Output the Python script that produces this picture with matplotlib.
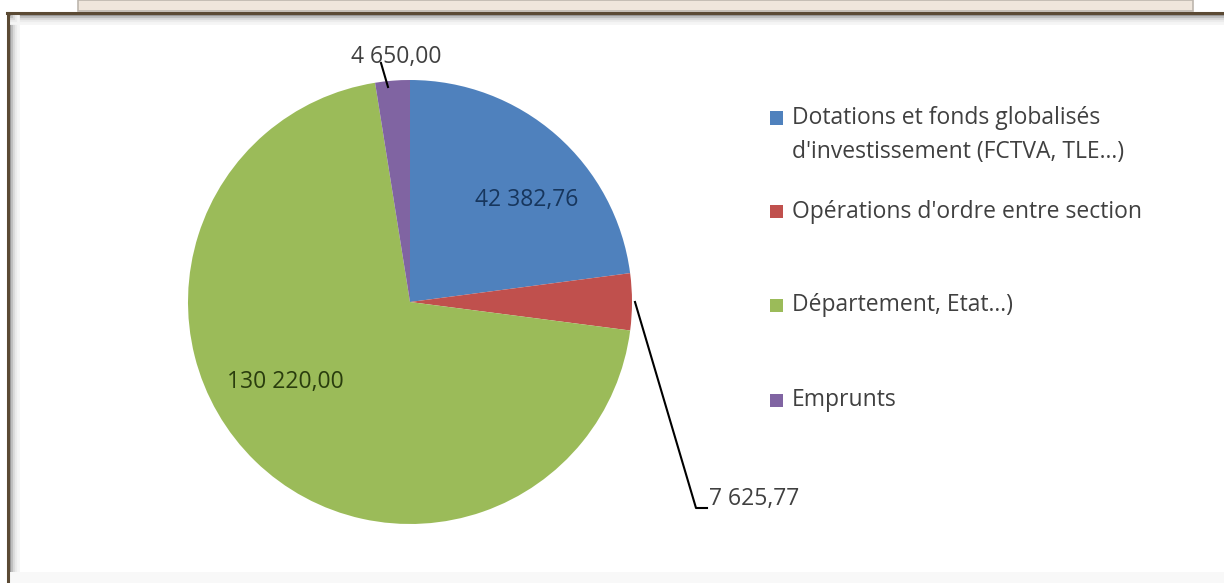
import matplotlib
matplotlib.use("Agg")
import matplotlib.pyplot as plt
from matplotlib.patches import Rectangle
from matplotlib.lines import Line2D
import numpy as np

# ---- data ----
categories = [
    "Dotations et fonds globalisés\nd'investissement (FCTVA, TLE...)",
    "Opérations d'ordre entre section",
    "Département, Etat...)",
    "Emprunts",
]
values = [42382.76, 7625.77, 130220.00, 4650.00]
value_labels = ["42 382,76", "7 625,77", "130 220,00", "4 650,00"]
colors = ["#4F81BD", "#C0504D", "#9BBB59", "#8064A2"]

W, H = 1224, 583
plt.rcParams['font.family'] = ['Open Sans', 'DejaVu Sans']
fig = plt.figure(figsize=(W / 100, H / 100), dpi=100)
fig.patch.set_facecolor("white")

def fx(px):
    return px / W

def fy(py):
    return 1 - py / H

# ---- frame decoration ----
fig.add_artist(Rectangle((fx(78), fy(11)), fx(1193) - fx(78), fy(0) - fy(11),
                         transform=fig.transFigure, facecolor="#EFE6DC",
                         edgecolor="#BDB6AE", lw=1.2, zorder=0))
for i, c in enumerate(["#9a9a9a", "#c0c0c0", "#dcdcdc", "#ececec", "#f5f5f5"]):
    fig.add_artist(Line2D([fx(10 + i * 2), fx(10 + i * 2)], [fy(14), fy(583)],
                          transform=fig.transFigure, color=c, lw=2, zorder=0))
    fig.add_artist(Line2D([fx(9), fx(1224)], [fy(15 + i * 2), fy(15 + i * 2)],
                          transform=fig.transFigure, color=c, lw=2, zorder=0))
fig.add_artist(Rectangle((fx(9), 0), 1, fy(572), transform=fig.transFigure,
                         facecolor="#f8f8f8", edgecolor="none", zorder=0))
fig.add_artist(Line2D([fx(8), fx(8)], [fy(13), 0], transform=fig.transFigure,
                      color="#5B4A34", lw=2.2, zorder=1))
fig.add_artist(Line2D([fx(7), 1], [fy(12.5), fy(12.5)], transform=fig.transFigure,
                      color="#5B4A34", lw=2.2, zorder=1))

# ---- pie ----
cx, cy, r = 410, 302, 222
ax = fig.add_axes([fx(cx - r), fy(cy + r), 2 * r / W, 2 * r / H])
wedges, _ = ax.pie(values, colors=colors, startangle=90, counterclock=False,
                   radius=1.0, wedgeprops=dict(linewidth=0))
ax.set_xlim(-1, 1)
ax.set_ylim(-1, 1)
ax.set_aspect("equal")
ax.axis("off")

def to_ax(px, py):
    return ((px - cx) / r, (cy - py) / r)

LBL = 16.5
ax.text(*to_ax(527, 200), value_labels[0], ha="center", va="center",
        fontsize=LBL, color="#17365D")
ax.text(*to_ax(285, 382), value_labels[2], ha="center", va="center",
        fontsize=LBL, color="#2A3D0E")

ax.plot(*zip(to_ax(381, 63), to_ax(388, 87)), color="black", lw=1.5, clip_on=False)
ax.text(*to_ax(396, 57), value_labels[3], ha="center", va="center",
        fontsize=LBL, color="#404040")

ax.plot(*zip(to_ax(635, 302), to_ax(696, 508), to_ax(707, 508)),
        color="black", lw=1.5, clip_on=False)
ax.text(*to_ax(709, 499), value_labels[1], ha="left", va="center",
        fontsize=LBL, color="#404040")

# ---- legend (manual) ----
legend_rows_y = [118, 212, 305, 400]
for col, lab, ly in zip(colors, categories, legend_rows_y):
    fig.add_artist(Rectangle((fx(770), fy(ly + 6.5)), 13 / W, 13 / H,
                             transform=fig.transFigure, facecolor=col,
                             edgecolor="none"))
    for k, line in enumerate(lab.split("\n")):
        fig.text(fx(792), fy(ly + k * 34), line, ha="left", va="center",
                 fontsize=16.5, color="#404040", transform=fig.transFigure)

fig.savefig("out.png", dpi=100, facecolor="white")
